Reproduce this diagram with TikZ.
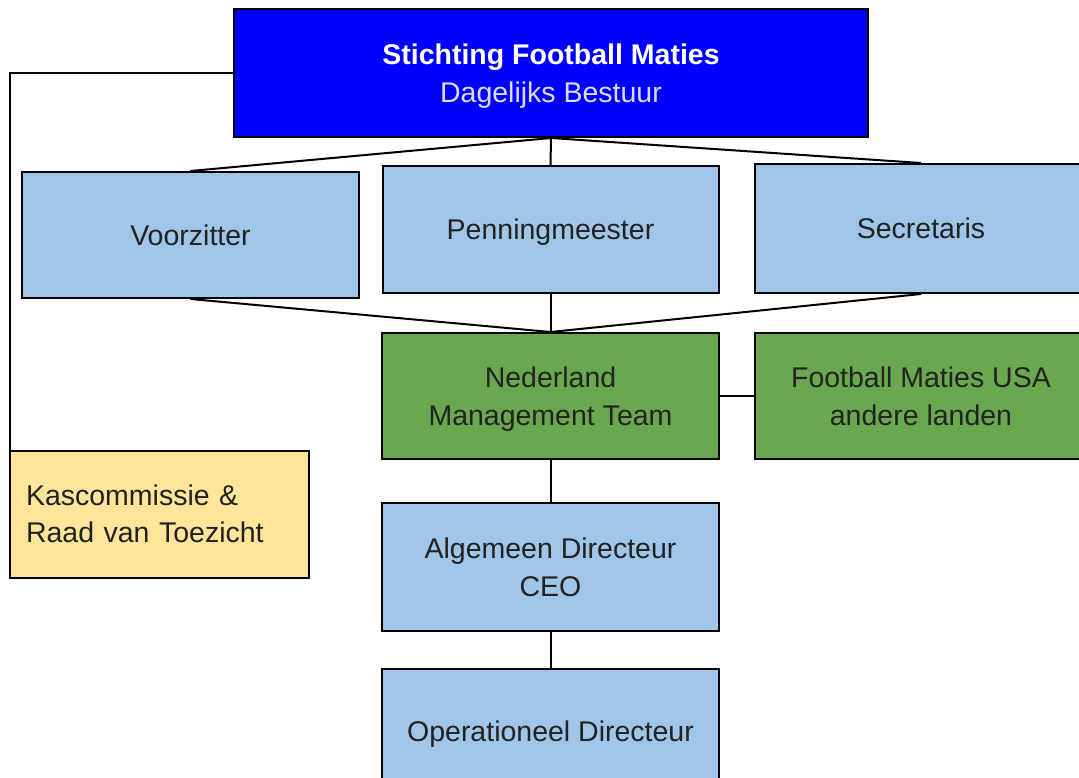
\documentclass[tikz,border=0pt]{standalone}
\usepackage{fontspec}
\setmainfont{Liberation Sans}
\definecolor{topblue}{HTML}{0000FF}
\definecolor{lblue}{HTML}{9FC5E8}
\definecolor{mgreen}{HTML}{6AA84F}
\definecolor{lyellow}{HTML}{FFE599}
\definecolor{subwhite}{HTML}{DCDCFF}
\definecolor{txt}{HTML}{222222}
\begin{document}
\begin{tikzpicture}[x=1pt,y=-1pt,
  basebox/.style={draw=black, line width=2pt, rectangle, inner sep=0pt, align=center,
    font=\fontsize{28.5}{37.5}\selectfont, text=txt},
  box/.style={basebox, text depth=0pt},
  bluebox/.style={box, fill=lblue},
  greenbox/.style={box, fill=mgreen},
  conn/.style={draw=black, line width=2pt}]
\useasboundingbox (0,0) rectangle (1079,778);
\clip (0,0) rectangle (1079,778);

\node[box, fill=topblue, text=white, minimum width=634pt, minimum height=128pt] (top) at (551,73)
  {{\bfseries Stichting Football Maties}\\{\color{subwhite}Dagelijks Bestuur}};
\node[bluebox, minimum width=337pt, minimum height=126pt] (voorz) at (190.5,235) {Voorzitter};
\node[bluebox, minimum width=336pt, minimum height=127pt] (penn) at (550.5,229.5) {Penningmeester};
\node[bluebox, minimum width=332pt, minimum height=129pt] (secr) at (921,228.5) {Secretaris};
\node[greenbox, minimum width=337pt, minimum height=126pt] (nmt) at (550.5,396) {Nederland\\Management Team};
\node[greenbox, minimum width=332pt, minimum height=126pt] (fm) at (921,396) {Football Maties USA\\andere landen};
\node[basebox, fill=lyellow, minimum width=299pt, minimum height=127pt, text width=267pt, align=left] (kas) at (159.5,514)
  {Kascommissie \&\\Raad van Toezicht};
\node[bluebox, minimum width=337pt, minimum height=128pt] (adir) at (550.5,567) {Algemeen Directeur\\CEO};
\node[bluebox, minimum width=337pt, minimum height=124pt] (opdir) at (550.5,731) {Operationeel Directeur};

\draw[conn] (top.south) -- (voorz.north);
\draw[conn] (top.south) -- (penn.north);
\draw[conn] (top.south) -- (secr.north);
\draw[conn] (voorz.south) -- (nmt.north);
\draw[conn] (penn.south) -- (nmt.north);
\draw[conn] (secr.south) -- (nmt.north);
\draw[conn] (nmt.east) -- (fm.west);
\draw[conn] (nmt.south) -- (adir.north);
\draw[conn] (adir.south) -- (opdir.north);
\draw[conn] (top.west) -| ([xshift=1pt]kas.north west);
\end{tikzpicture}
\end{document}
